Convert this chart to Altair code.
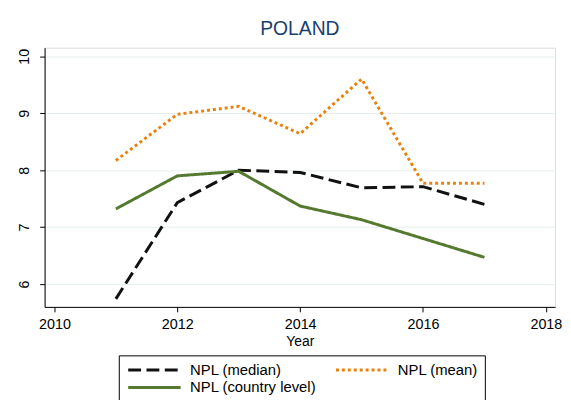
import altair as alt
import pandas as pd

years = [2011, 2012, 2013, 2014, 2015, 2016, 2017]
npl_median = [5.74, 7.43, 8.0, 7.96, 7.69, 7.71, 7.40]
npl_mean = [8.17, 8.98, 9.12, 8.64, 9.60, 7.77, 7.77]
npl_country = [7.32, 7.90, 7.98, 7.37, 7.13, 6.80, 6.47]

series_names = ["NPL (median)", "NPL (mean)", "NPL (country level)"]
series_colors = ["#111111", "#e8820e", "#55792f"]
series_dashes = [[13, 5.5], [3, 3], [1, 0]]

rows = []
for name, vals in zip(series_names, [npl_median, npl_mean, npl_country]):
    for yr, v in zip(years, vals):
        rows.append({"Year": yr, "value": v, "series": name})
df = pd.DataFrame(rows)

FONT = "Liberation Sans"

chart = (
    alt.Chart(df)
    .mark_line(strokeWidth=3, strokeCap="butt")
    .encode(
        x=alt.X(
            "Year:Q",
            scale=alt.Scale(domain=[2009.84, 2018.15], nice=False, zero=False),
            axis=alt.Axis(
                values=[2010, 2012, 2014, 2016, 2018],
                format="d",
                grid=False,
                title="Year",
                titleFontWeight="normal",
                titleFontSize=14,
                titleFont=FONT,
                titleColor="#000000",
                titlePadding=4,
                labelFontSize=14.5,
                labelFont=FONT,
                labelColor="#000000",
                labelPadding=6,
                tickSize=5,
                tickColor="#000000",
                domainColor="#000000",
                labelFlush=False,
            ),
        ),
        y=alt.Y(
            "value:Q",
            scale=alt.Scale(domain=[5.6, 10.15], nice=False, zero=False),
            axis=alt.Axis(
                values=[6, 7, 8, 9, 10],
                title=None,
                grid=True,
                gridColor="#e6efef",
                gridWidth=1,
                labelAngle=270,
                labelAlign="center",
                labelBaseline="bottom",
                labelPadding=8,
                labelFontSize=14.5,
                labelFont=FONT,
                labelColor="#000000",
                tickSize=5,
                tickColor="#000000",
                domainColor="#000000",
            ),
        ),
        color=alt.Color(
            "series:N",
            scale=alt.Scale(domain=series_names, range=series_colors),
            sort=series_names,
            legend=alt.Legend(
                title=None,
                orient="none",
                legendX=75,
                legendY=311,
                columns=2,
                direction="horizontal",
                symbolType="M-1,0H9.6",
                symbolSize=100,
                symbolStrokeWidth=3,
                labelFontSize=15,
                labelFont=FONT,
                labelColor="#000000",
                labelOffset=50,
                columnPadding=13,
                rowPadding=2,
                padding=7,
                strokeColor="#000000",
                cornerRadius=0,
                fillColor="#ffffff",
            ),
        ),
        strokeDash=alt.StrokeDash(
            "series:N",
            scale=alt.Scale(domain=series_names, range=series_dashes),
            sort=series_names,
            legend=None,
        ),
        order=alt.Order("Year:Q"),
    )
    .properties(
        width=516,
        height=262,
        title=alt.TitleParams(
            "POLAND",
            fontSize=19.5,
            font=FONT,
            fontWeight="normal",
            color="#1a3f6f",
            anchor="middle",
            offset=8,
        ),
        autosize=alt.AutoSizeParams(type="none"),
        padding={"left": 37, "top": 38, "right": 8, "bottom": 92},
    )
    .configure_view(stroke=None)
    .configure(background="#ffffff")
)

chart.save("out.html", embed_options={"renderer": "svg", "actions": False})
